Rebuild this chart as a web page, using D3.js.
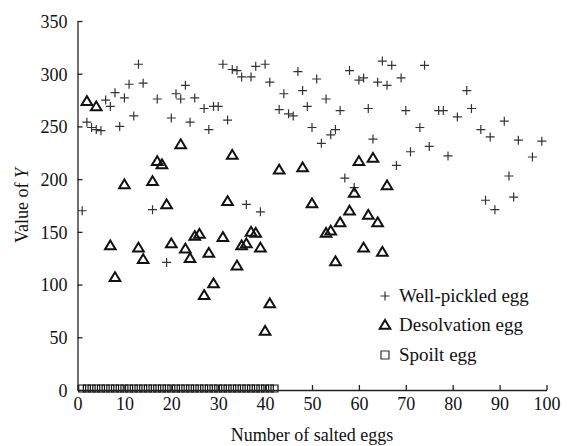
<!DOCTYPE html>
<html>
<head>
<script src="https://d3js.org/d3.v7.min.js"></script>
<style>
  html, body { margin: 0; padding: 0; background: #fff; }
  svg { display: block; }
  text { font-family: "Liberation Serif", "Times New Roman", serif; fill: #111; }
</style>
</head>
<body>
<div id="chart"></div>
<script>
// well-pickled eggs (+)
var wellX = [1, 2, 3, 4, 5, 6, 7, 8, 9, 10, 11, 12, 13, 14, 16, 17, 19, 20, 21, 22,
             23, 24, 25, 27, 28, 29, 30, 31, 32, 33, 34, 35, 36, 37, 38, 39, 40, 41, 43, 44,
             45, 46, 47, 48, 49, 50, 51, 52, 53, 54, 55, 56, 57, 58, 59, 60, 61, 62, 63, 64,
             65, 66, 67, 68, 69, 70, 71, 73, 74, 75, 77, 78, 79, 81, 83, 84, 86, 87, 88, 89,
             91, 92, 93, 94, 97, 99];
var wellY = [170, 254, 249, 247, 246, 275, 269, 282, 250, 277, 290, 260, 309, 291, 171, 276, 121, 258, 281, 276,
             289, 254, 277, 267, 247, 269, 269, 309, 256, 304, 303, 297, 176, 297, 307, 169, 309, 292, 266, 281,
             262, 260, 302, 284, 269, 249, 295, 234, 276, 242, 247, 265, 201, 303, 192, 294, 296, 267, 238, 292,
             312, 289, 308, 213, 296, 265, 226, 249, 308, 231, 265, 265, 222, 259, 284, 267, 247, 180, 240, 171,
             255, 203, 183, 237, 221, 236];

// desolvation eggs (triangles)
var desoX = [2, 4, 7, 8, 10, 13, 14, 16, 17, 18, 19, 20, 22, 23, 24, 25, 26, 27, 28, 29,
             31, 32, 33, 34, 35, 36, 37, 38, 39, 40, 41, 43, 48, 50, 53, 54, 55, 56, 58, 59,
             60, 61, 62, 63, 64, 65, 66];
var desoY = [274, 269, 137, 107, 195, 135, 124, 198, 217, 214, 176, 139, 233, 134, 125, 146, 148, 90, 130, 101,
             145, 179, 223, 118, 137, 139, 150, 149, 135, 56, 82, 209, 211, 177, 149, 151, 122, 159, 170, 187,
             217, 135, 166, 220, 159, 131, 194];

// spoilt eggs (squares)
var spoiltX = [1, 2, 3, 4, 5, 6, 7, 8, 9, 10, 11, 12, 13, 14, 15, 16, 17, 18, 19, 20, 21,
               22, 23, 24, 25, 26, 27, 28, 29, 30, 31, 32, 33, 34, 35, 36, 37, 38, 39, 40, 41, 42];
var spoiltY = [0, 0, 0, 0, 0, 0, 0, 0, 0, 0, 0, 0, 0, 0, 0, 0, 0, 0, 0, 0, 0,
               0, 0, 0, 0, 0, 0, 0, 0, 0, 0, 0, 0, 0, 0, 0, 0, 0, 0, 0, 0, 0];

var xTicks = [0, 10, 20, 30, 40, 50, 60, 70, 80, 90, 100];
var yTicks = [0, 50, 100, 150, 200, 250, 300, 350];
var legendNames = ["Well-pickled egg", "Desolvation egg", "Spoilt egg"];

var W = 567, H = 446;
var margin = {left: 77.5, right: 20.5, top: 21, bottom: 56};

var svg = d3.select("#chart").append("svg").attr("width", W).attr("height", H);

var x = d3.scaleLinear().domain([0, 100]).range([margin.left, W - margin.right]);
var y = d3.scaleLinear().domain([0, 350]).range([H - margin.bottom, margin.top]);

var plusPath = "M-4.5,0H4.5M0,-4.5V4.5";
var triPath = "M0,-5L5.3,3.8L-5.3,3.8Z";
var sqPath = "M-3.5,-3.5H3.5V3.5H-3.5Z";

// spoilt first so the axis line sits over them
svg.append("g").selectAll("path")
    .data(spoiltX)
    .enter().append("path")
    .attr("d", sqPath)
    .attr("transform", function(d, i) { return "translate(" + x(d) + "," + (y(spoiltY[i]) - 1.5) + ")"; })
    .attr("fill", "none")
    .attr("stroke", "#111")
    .attr("stroke-width", 1.2);

// axes
var xAxis = svg.append("g")
    .attr("transform", "translate(0," + y(0) + ")")
    .call(d3.axisBottom(x).tickValues(xTicks).tickSizeInner(-5).tickSizeOuter(0).tickPadding(7));
var yAxis = svg.append("g")
    .attr("transform", "translate(" + x(0) + ",0)")
    .call(d3.axisLeft(y).tickValues(yTicks).tickSizeInner(-5).tickSizeOuter(0).tickPadding(10));

[xAxis, yAxis].forEach(function(a) {
    a.attr("font-family", null).attr("font-size", null);
    a.select(".domain").attr("stroke", "#222").attr("stroke-width", 1.3);
    a.selectAll(".tick line").attr("stroke", "#222").attr("stroke-width", 1.3);
    a.selectAll("text").style("font-size", "18px").attr("fill", "#111");
});
yAxis.selectAll("text").attr("dy", "0.35em");

svg.append("g").selectAll("path")
    .data(wellX)
    .enter().append("path")
    .attr("d", plusPath)
    .attr("transform", function(d, i) { return "translate(" + x(d) + "," + y(wellY[i]) + ")"; })
    .attr("stroke", "#333")
    .attr("stroke-width", 1.2)
    .attr("fill", "none");

svg.append("g").selectAll("path")
    .data(desoX)
    .enter().append("path")
    .attr("d", triPath)
    .attr("transform", function(d, i) { return "translate(" + x(d) + "," + y(desoY[i]) + ")"; })
    .attr("stroke", "#111")
    .attr("stroke-width", 2)
    .attr("fill", "none");

// axis titles
svg.append("text")
    .attr("x", (x(0) + x(100)) / 2)
    .attr("y", 441)
    .attr("text-anchor", "middle")
    .style("font-size", "18px")
    .text("Number of salted eggs");

var yt = svg.append("text")
    .attr("transform", "translate(28," + ((y(0) + y(350)) / 2) + ") rotate(-90)")
    .attr("text-anchor", "middle")
    .style("font-size", "18px");
yt.append("tspan").text("Value of ");
yt.append("tspan").attr("font-style", "italic").text("Y");

// legend
var legendY = [296, 325, 355];
var legendShapes = [plusPath, triPath, "M-4,-4H4V4H-4Z"];
var lg = svg.append("g");
legendNames.forEach(function(name, i) {
    lg.append("path")
        .attr("d", legendShapes[i])
        .attr("transform", "translate(385," + legendY[i] + ")")
        .attr("fill", "none")
        .attr("stroke", i == 1 ? "#111" : "#333")
        .attr("stroke-width", i == 1 ? 2 : 1.2);
    lg.append("text")
        .attr("x", 399)
        .attr("y", legendY[i] + 6)
        .style("font-size", "19px")
        .text(name);
});
</script>
</body>
</html>
